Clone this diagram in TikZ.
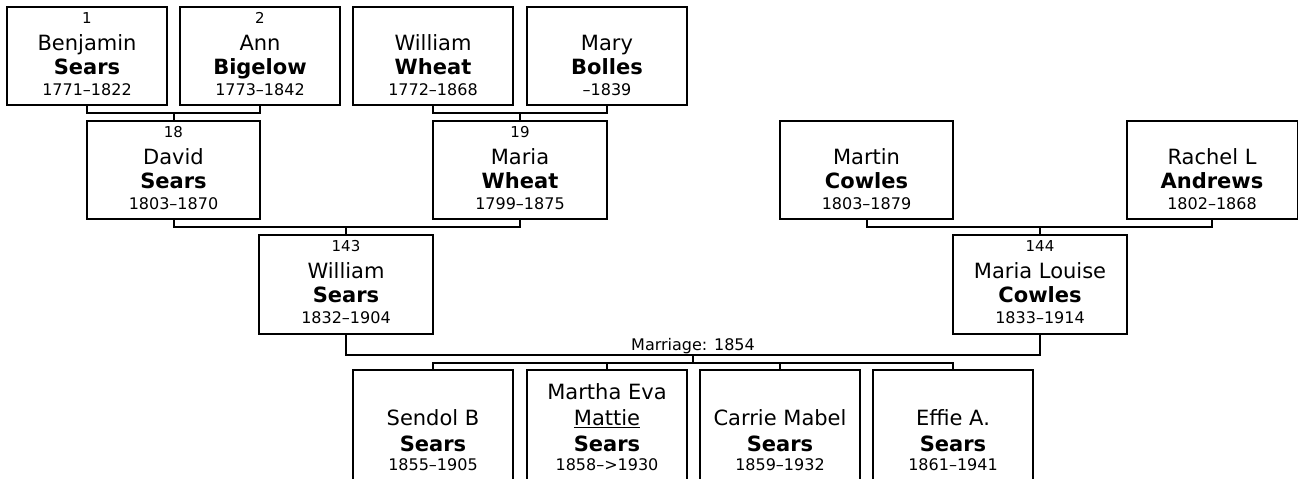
\documentclass[tikz,border=0pt]{standalone}
\usepackage{fontspec}
\setmainfont{DejaVu Sans}
\usetikzlibrary{positioning,calc}

\newcommand{\nickmark}[1]{\setbox0=\hbox{#1}\rlap{\rule[-2.6pt]{\wd0}{1.3pt}}\copy0}

\newcommand{\personcard}[5]{%
  \if\relax\detokenize{#2}\relax\else
    \node[numtext] (#1-num) at ([yshift=-12.4pt]#1.north) {#2};
  \fi
  \node[nametext] (#1-first) at ([yshift=-32.3pt]#1.north) {#3};
  \node[surtext] (#1-last) at ([yshift=-50.3pt]#1.north) {#4};
  \node[datetext] (#1-dates) at ([yshift=-66pt]#1.north) {#5};
}

\newcommand{\childcard}[5]{%
  \if\relax\detokenize{#2}\relax\else
    \node[nametext] (#1-extra) at ([yshift=-22pt]#1.north) {#2};
  \fi
  \node[nametext] (#1-first) at ([yshift=-41.25pt]#1.north) {#3};
  \node[surtext] (#1-last) at ([yshift=-60.75pt]#1.north) {#4};
  \node[datetext] (#1-dates) at ([yshift=-75.5pt]#1.north) {#5};
}

\begin{document}
\begin{tikzpicture}[x=0.75pt, y=-0.75pt,
    card/.style={draw, line width=1.5pt, fill=white, anchor=north, inner sep=0pt, outer sep=0pt, minimum height=73.5pt},
    kidcard/.style={card, minimum width=120pt, minimum height=93.75pt},
    link/.style={line width=1.5pt},
    numtext/.style={anchor=base, inner sep=0pt, font=\fontsize{11.25pt}{13pt}\selectfont},
    nametext/.style={anchor=base, inner sep=0pt, font=\fontsize{15.75pt}{18pt}\selectfont},
    surtext/.style={anchor=base, inner sep=0pt, font=\fontsize{15.75pt}{18pt}\selectfont\bfseries},
    datetext/.style={anchor=base, inner sep=0pt, font=\fontsize{12pt}{14pt}\selectfont},
    wedtext/.style={anchor=base, inner sep=0pt, font=\fontsize{12pt}{14pt}\selectfont}]
    \useasboundingbox (0,0) rectangle (1298,478);
    \clip (0,0) rectangle (1298,478);

    % great-grandparents
    \node[card, minimum width=120pt] (ben) at (87,7) {};
    \node[card, minimum width=120pt] (ann) at (260,7) {};
    \node[card, minimum width=120pt] (wwheat) at (433,7) {};
    \node[card, minimum width=120pt] (mbolles) at (607,7) {};
    \personcard{ben}{1}{Benjamin}{Sears}{1771–1822}
    \personcard{ann}{2}{Ann}{Bigelow}{1773–1842}
    \personcard{wwheat}{}{William}{Wheat}{1772–1868}
    \personcard{mbolles}{}{Mary}{Bolles}{–1839}

    % grandparents
    \node[card, minimum width=129.75pt] (david) at (173.5,121) {};
    \node[card, minimum width=130.5pt] (mwheat) at (520,121) {};
    \node[card, minimum width=129.75pt] (mcowles) at (866.5,121) {};
    \node[card, minimum width=128.25pt] (randrews) at (1212,121) {};
    \personcard{david}{18}{David}{Sears}{1803–1870}
    \personcard{mwheat}{19}{Maria}{Wheat}{1799–1875}
    \personcard{mcowles}{}{Martin}{Cowles}{1803–1879}
    \personcard{randrews}{}{Rachel L}{Andrews}{1802–1868}

    % parents
    \node[card, minimum width=130.5pt, minimum height=74.25pt] (wsears) at (346,235) {};
    \node[card, minimum width=130.5pt, minimum height=74.25pt] (mlcowles) at (1040,235) {};
    \personcard{wsears}{143}{William}{Sears}{1832–1904}
    \personcard{mlcowles}{144}{Maria Louise}{Cowles}{1833–1914}

    % children
    \node[kidcard] (sendol) at (433,370) {};
    \node[kidcard] (martha) at (607,370) {};
    \node[kidcard] (carrie) at (780,370) {};
    \node[kidcard] (effie) at (953,370) {};
    \childcard{sendol}{}{Sendol B}{Sears}{1855–1905}
    \childcard{martha}{Martha Eva}{\nickmark{Mattie}}{Sears}{1858–>1930}
    \childcard{carrie}{}{Carrie Mabel}{Sears}{1859–1932}
    \childcard{effie}{}{Effie A.}{Sears}{1861–1941}

    % couples
    \draw[link] (ben.south) -- ++(0,8) -| (ann.south);
    \draw[link] (david.north) -- ++(0,-8);
    \draw[link] (wwheat.south) -- ++(0,8) -| (mbolles.south);
    \draw[link] (mwheat.north) -- ++(0,-8);
    \draw[link] (david.south) -- ++(0,8) -| (mwheat.south);
    \draw[link] (wsears.north) -- ++(0,-8);
    \draw[link] (mcowles.south) -- ++(0,8) -| (randrews.south);
    \draw[link] (mlcowles.north) -- ++(0,-8);

    % marriage
    \draw[link] (wsears.south) -- ++(0,21) -| (mlcowles.south);
    \coordinate (wed) at ($(wsears.south)!0.5!(mlcowles.south)+(0,21)$);
    \node[wedtext] (wedlabel) at ([yshift=3.75pt]wed) {Marriage: 1854};
    \draw[link] (wed) -- ++(0,8);
    \draw[link] (sendol.north) -- ++(0,-7) -| (effie.north);
    \draw[link] (martha.north) -- ++(0,-7);
    \draw[link] (carrie.north) -- ++(0,-7);
  \end{tikzpicture}
\end{document}
